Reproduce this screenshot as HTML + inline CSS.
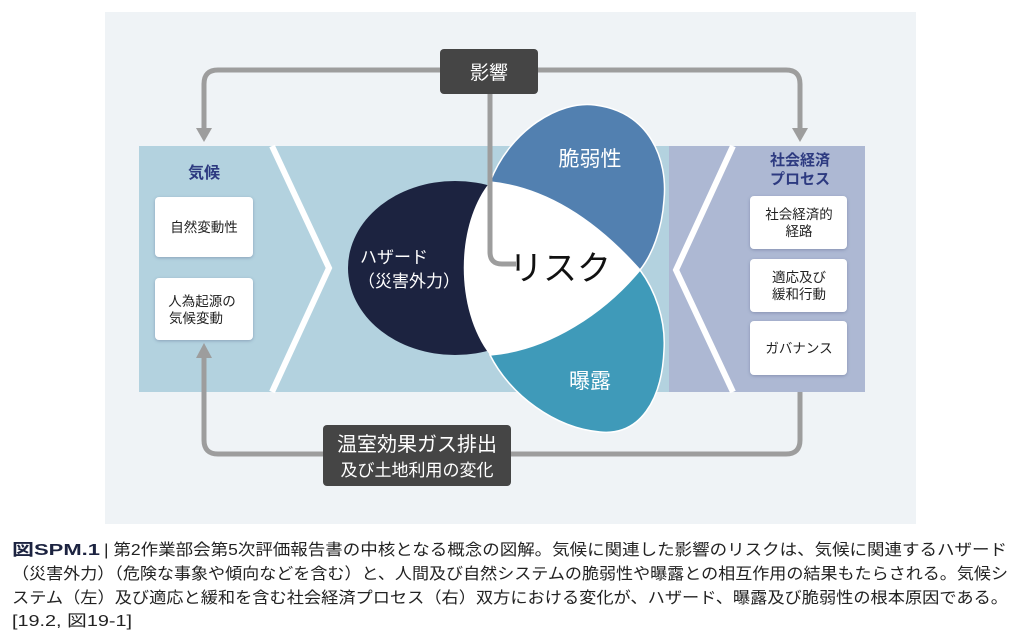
<!DOCTYPE html>
<html><head><meta charset="utf-8"><style>
body{margin:0;background:#fff;width:1024px;height:641px;overflow:hidden;font-family:"Liberation Sans","Noto Sans CJK JP",sans-serif}
</style></head><body>
<svg width="1024" height="641" style="position:absolute;left:0;top:0" font-family="Liberation Sans, Noto Sans CJK JP, sans-serif">
<defs>
<filter id="sh" x="-20%" y="-20%" width="140%" height="140%"><feDropShadow dx="0" dy="1" stdDeviation="1.5" flood-color="#4a5a80" flood-opacity="0.4"/></filter>
</defs>
<rect x="105" y="12" width="811" height="512" fill="#eff3f6"/>
<rect x="139" y="146" width="530" height="246" fill="#b3d2df"/>
<rect x="669" y="146" width="196" height="246" fill="#adb8d3"/>
<polyline points="272,146 329,268 272,392" fill="none" stroke="#fff" stroke-width="6"/>
<polyline points="733,146 676,270 733,392" fill="none" stroke="#fff" stroke-width="6"/>
<g fill="none" stroke="#9d9d9d" stroke-width="5">
<path d="M204,132 V84 Q204,70 218,70 H786 Q800,70 800,84 V132"/>
<path d="M204,356 V440 Q204,454 218,454 H786 Q800,454 800,440 V392"/>
</g>
<polygon points="196,128 212,128 204,142" fill="#9d9d9d"/>
<polygon points="792,128 808,128 800,142" fill="#9d9d9d"/>
<polygon points="196,358 212,358 204,343" fill="#9d9d9d"/>
<ellipse cx="455" cy="268" rx="107" ry="87" fill="#1c2340"/>
<path d="M490,182 C510,130 560,100 595,105 C650,112 668,160 664,200 C662,230 652,255 640,270 C600,225 550,188 490,182 Z" fill="#5280b0" stroke="#fff" stroke-width="1.5"/>
<path d="M490,355 C550,350 605,312 640,270 C655,290 666,320 664,350 C662,400 640,436 600,432 C555,428 510,395 490,355 Z" fill="#3f9ab9" stroke="#fff" stroke-width="1.5"/>
<path d="M490,182 C550,188 605,228 640,270 C605,312 550,350 490,355 C455,310 455,225 490,182 Z" fill="#fff"/>
<path d="M490,94 V252 Q490,264 502,264 H516" fill="none" stroke="#9d9d9d" stroke-width="5"/>
<text x="590" y="166" font-size="21" fill="#fff" text-anchor="middle">脆弱性</text>
<text x="590" y="388" font-size="21" fill="#fff" text-anchor="middle">曝露</text>
<text x="560" y="280" font-size="34" fill="#111" text-anchor="middle">リスク</text>
<text x="360" y="263" font-size="17" fill="#fff">ハザード</text>
<text x="358" y="287" font-size="17" fill="#fff">（災害外力）</text>
<text x="204" y="178" font-size="16" fill="#2d3a80" text-anchor="middle" font-weight="bold">気候</text>
<text x="800" y="165" font-size="15" fill="#2d3a80" text-anchor="middle" font-weight="bold">社会経済</text>
<text x="800" y="184" font-size="15" fill="#2d3a80" text-anchor="middle" font-weight="bold">プロセス</text>
<g filter="url(#sh)" fill="#fff">
<rect x="155" y="197" width="98" height="60" rx="4"/>
<rect x="155" y="278" width="98" height="62" rx="4"/>
<rect x="750" y="196" width="97" height="53" rx="4"/>
<rect x="750" y="259" width="97" height="53" rx="4"/>
<rect x="750" y="321" width="97" height="54" rx="4"/>
</g>
<g font-size="13.5" fill="#222" text-anchor="middle">
<text x="204" y="232">自然変動性</text>
<text x="202" y="306">人為起源の</text>
<text x="196" y="323">気候変動</text>
<text x="799" y="219">社会経済的</text>
<text x="799" y="236">経路</text>
<text x="799" y="282">適応及び</text>
<text x="799" y="299">緩和行動</text>
<text x="799" y="353">ガバナンス</text>
</g>
<rect x="440" y="49" width="98" height="45" rx="4" fill="#454545"/>
<text x="489" y="79" font-size="19" fill="#fff" text-anchor="middle">影響</text>
<rect x="323" y="425" width="188" height="61" rx="4" fill="#454545"/>
<text x="417" y="451" font-size="20" fill="#fff" text-anchor="middle">温室効果ガス排出</text>
<text x="417" y="476" font-size="17" fill="#fff" text-anchor="middle">及び土地利用の変化</text>
<g font-size="16" fill="#222" lengthAdjust="spacingAndGlyphs">
<text x="12" y="555" font-weight="bold" fill="#1c2340" textLength="88" lengthAdjust="spacingAndGlyphs">図SPM.1</text>
<text x="104" y="555" textLength="903" lengthAdjust="spacingAndGlyphs">| 第2作業部会第5次評価報告書の中核となる概念の図解。気候に関連した影響のリスクは、気候に関連するハザード</text>
<text x="12" y="579" textLength="996" lengthAdjust="spacingAndGlyphs">（災害外力）（危険な事象や傾向などを含む）と、人間及び自然システムの脆弱性や曝露との相互作用の結果もたらされる。気候シ</text>
<text x="12" y="603" textLength="996" lengthAdjust="spacingAndGlyphs">ステム（左）及び適応と緩和を含む社会経済プロセス（右）双方における変化が、ハザード、曝露及び脆弱性の根本原因である。</text>
<text x="12" y="626" textLength="120" lengthAdjust="spacingAndGlyphs">[19.2, 図19-1]</text>
</g>
</svg>
</body></html>
